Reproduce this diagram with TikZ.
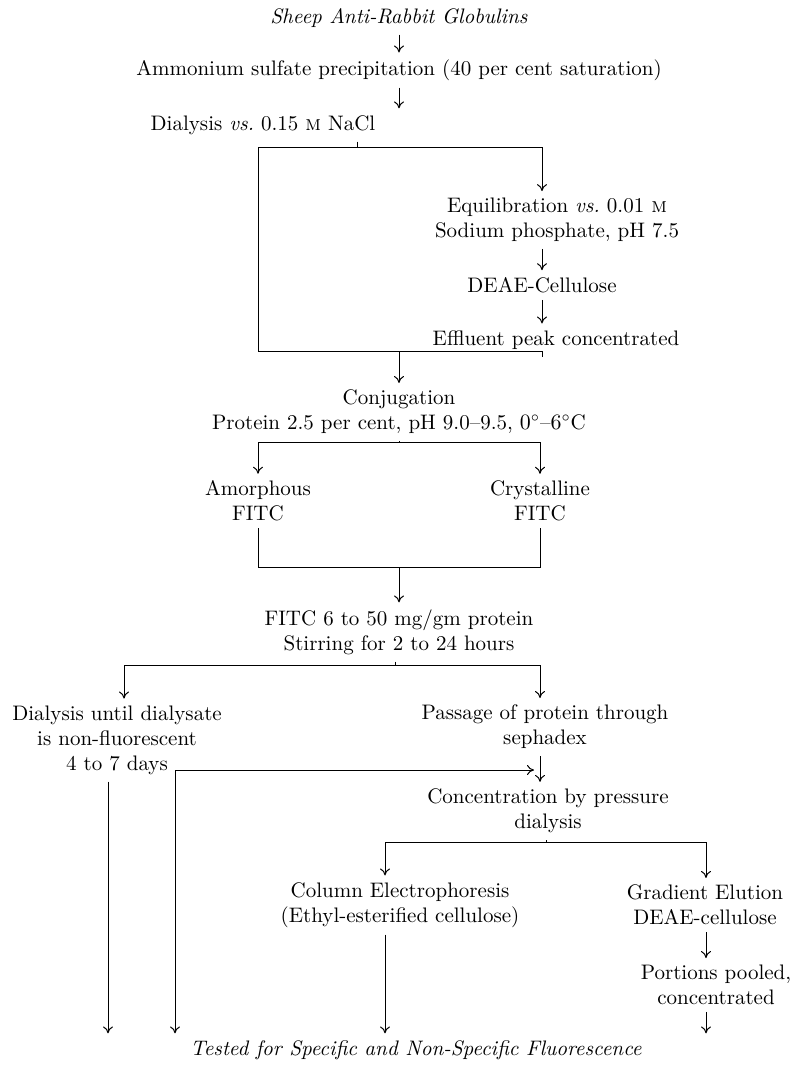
\documentclass[tikz,border=0pt]{standalone}
\usetikzlibrary{arrows.meta}
\begin{document}
\begin{tikzpicture}[x=0.5pt, y=-0.5pt,
    every node/.style={font=\fontsize{10.5}{12.5}\selectfont, align=center},
    link/.style={line width=0.5pt},
    flow/.style={link, -{To[length=3.5pt,width=5pt]}}]
    % Fix the page size
    \useasboundingbox (0,0) rectangle (795,1066);

    % Place the steps
    \node (sheep) at (399,18) {\textit{Sheep Anti-Rabbit Globulins}};
    \node (ammon) at (399,70) {Ammonium sulfate precipitation (40 per cent saturation)};
    \node (dialA) at (263,125) {Dialysis \textit{vs.}\ 0.15 \textsc{m} NaCl};
    \node (equil) at (557,220) {Equilibration \textit{vs.}\ 0.01 \textsc{m}\\Sodium phosphate, pH 7.5};
    \node (deae) at (542,285) {DEAE-Cellulose};
    \node (effl) at (556,340) {Effluent peak concentrated};
    \node (conj) at (399,412) {Conjugation\\Protein 2.5 per cent, pH 9.0--9.5, $0^\circ$--$6^\circ$C};
    \node (amorph) at (258,501) {Amorphous\\FITC};
    \node (cryst) at (540,501) {Crystalline\\FITC};
    \node (fitc) at (399,632) {FITC 6 to 50 mg/gm protein\\Stirring for 2 to 24 hours};
    \node (dialB) at (117,740) {Dialysis until dialysate\\is non-fluorescent\\4 to 7 days};
    \node (passage) at (545,727) {Passage of protein through\\sephadex};
    \node (conc) at (548,811) {Concentration by pressure\\dialysis};
    \node (column) at (400,905) {Column Electrophoresis\\(Ethyl-esterified cellulose)};
    \node (gradient) at (705,905) {Gradient Elution\\DEAE-cellulose};
    \node (portions) at (716,985) {Portions pooled,\\concentrated};
    \node (tested) at (416,1050) {\textit{Tested for Specific and Non-Specific Fluorescence}};

    % Define junctions of the branch lines
    \coordinate (splitA) at (357,147);
    \coordinate (leftA) at (258,147);
    \coordinate (rightA) at (542,147);
    \coordinate (mergeA) at (399,351);
    \coordinate (lowLeftA) at (258,351);
    \coordinate (lowRightA) at (542,351);
    \coordinate (splitB) at (399,442);
    \coordinate (leftB) at (258,442);
    \coordinate (rightB) at (540,442);
    \coordinate (mergeC) at (399,567);
    \coordinate (splitD) at (395,665);
    \coordinate (leftD) at (124,665);
    \coordinate (rightD) at (540,665);
    \coordinate (sideE) at (175,770);
    \coordinate (joinE) at (534,770);
    \coordinate (leftE) at (108,1040);
    \coordinate (splitF) at (546,842);
    \coordinate (leftF) at (385,842);
    \coordinate (rightF) at (706,842);

    % Draw the top of the scheme
    \draw[flow] (sheep) -- (ammon);
    \draw[flow] (ammon.south) -- (ammon.south |- dialA.north);

    % Draw the DEAE bypass loop
    \draw[link] (dialA.south -| splitA) -- (splitA);
    \draw[flow] (leftA) -- (rightA) -- (rightA |- equil.north);
    \draw[flow] (equil.south -| deae) -- (deae);
    \draw[flow] (deae) -- (deae |- effl.north);
    \draw[link] (leftA) -- (lowLeftA) -- (lowRightA) -- (lowRightA |- effl.south);
    \draw[flow] (mergeA) -- (conj);

    % Draw the two kinds of FITC
    \draw[link] (conj) -- (splitB);
    \draw[link] (leftB) -- (rightB);
    \draw[flow] (leftB) -- (amorph);
    \draw[flow] (rightB) -- (cryst);
    \draw[link] (amorph) -- (amorph |- mergeC) -- (cryst |- mergeC) -- (cryst);
    \draw[flow] (mergeC) -- (fitc);

    % Draw the two ways of cleaning
    \draw[link] (fitc.south -| splitD) -- (splitD);
    \draw[link] (leftD) -- (rightD);
    \draw[flow] (leftD) -- (leftD |- dialB.north);
    \draw[flow] (rightD) -- (rightD |- passage.north);
    \draw[flow] (passage.south -| rightD) -- (rightD |- conc.north);
    \draw[flow] (sideE) -- (joinE);
    \draw[flow] (sideE) -- (sideE |- tested.north);
    \draw[flow] (dialB.south -| leftE) -- (leftE |- tested.north);

    % Draw the column and gradient branches
    \draw[link] (conc.south -| splitF) -- (splitF);
    \draw[link] (leftF) -- (rightF);
    \draw[flow] (leftF) -- (leftF |- column.north);
    \draw[flow] (rightF) -- (rightF |- gradient.north);
    \draw[flow] (column.south -| leftF) -- (leftF |- tested.north);
    \draw[flow] (gradient.south -| rightF) -- (rightF |- portions.north);
    \draw[flow] (portions.south -| rightF) -- (rightF |- tested.north);

\end{tikzpicture}
\end{document}
